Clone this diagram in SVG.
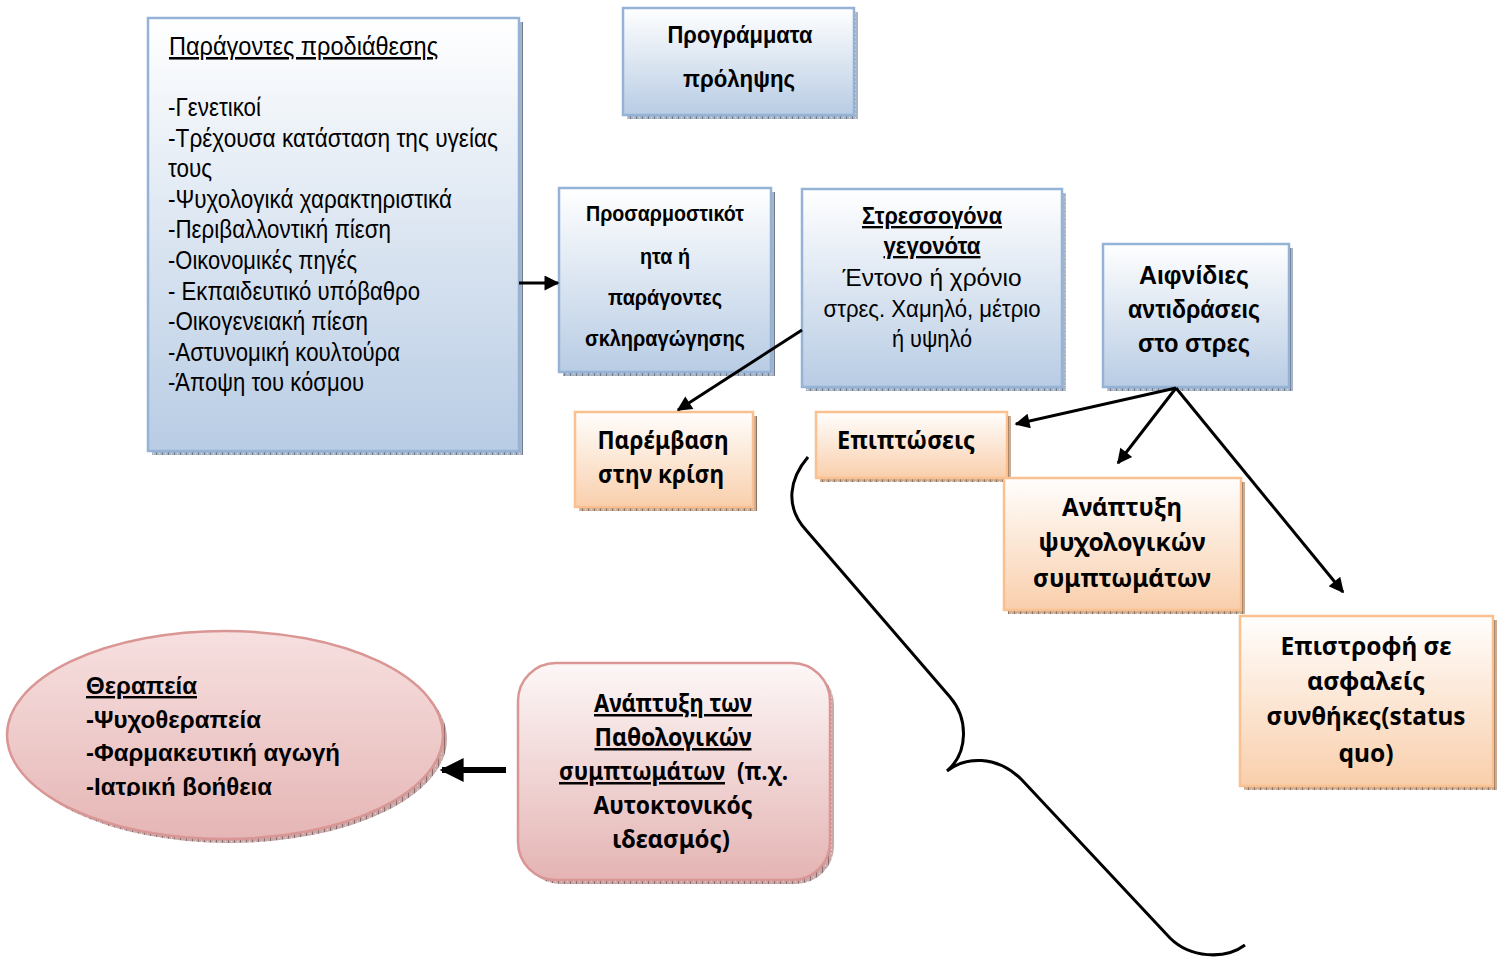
<svg xmlns="http://www.w3.org/2000/svg" width="1502" height="958" viewBox="0 0 1502 958">
  <defs>
    <linearGradient id="gBlue" x1="0" y1="0" x2="0" y2="1">
      <stop offset="0" stop-color="#ffffff"/>
      <stop offset="1" stop-color="#b8cce4"/>
    </linearGradient>
    <linearGradient id="gOrange" x1="0" y1="0" x2="0" y2="1">
      <stop offset="0" stop-color="#fffefd"/>
      <stop offset="1" stop-color="#f9cfac"/>
    </linearGradient>
    <linearGradient id="gPink" x1="0" y1="0" x2="0" y2="1">
      <stop offset="0" stop-color="#fdf7f7"/>
      <stop offset="1" stop-color="#e4b4b3"/>
    </linearGradient>
    <linearGradient id="gEllipse" x1="0" y1="0" x2="0" y2="1">
      <stop offset="0" stop-color="#f7e0e0"/>
      <stop offset="1" stop-color="#e5b6b5"/>
    </linearGradient>
    <pattern id="shBlue" width="6" height="4" patternUnits="userSpaceOnUse">
      <rect width="6" height="4" fill="#a9b4c4"/>
      <rect x="0" y="0" width="1" height="4" fill="#6f7c90"/>
      <rect x="3" y="1" width="1" height="1" fill="#dfe5ee"/>
    </pattern>
    <pattern id="shOrange" width="6" height="4" patternUnits="userSpaceOnUse">
      <rect width="6" height="4" fill="#c9ad96"/>
      <rect x="0" y="0" width="1" height="4" fill="#8f735e"/>
      <rect x="3" y="1" width="1" height="1" fill="#efe2d6"/>
    </pattern>
    <pattern id="shPink" width="6" height="4" patternUnits="userSpaceOnUse">
      <rect width="6" height="4" fill="#c7a9a9"/>
      <rect x="0" y="0" width="1" height="4" fill="#8c6c6c"/>
      <rect x="3" y="1" width="1" height="1" fill="#eddcdc"/>
    </pattern>
    <marker id="head" viewBox="0 0 10 10" refX="9" refY="5" markerWidth="6" markerHeight="5" markerUnits="strokeWidth" orient="auto">
      <path d="M0,0 L10,5 L0,10 Z" fill="#000"/>
    </marker>
    <marker id="headBig" viewBox="0 0 10 10" refX="9" refY="5" markerWidth="5.5" markerHeight="4" markerUnits="strokeWidth" orient="auto">
      <path d="M0,0 L10,5 L0,10 Z" fill="#000"/>
    </marker>
    <clipPath id="ellipseTextClip">
      <rect x="0" y="600" width="460" height="196"/>
    </clipPath>
    <style>
      .blue { fill: url(#gBlue); stroke: #95b3d7; stroke-width: 2.5; }
      .orange { fill: url(#gOrange); stroke: #fac08f; stroke-width: 2.5; }
      .pink { fill: url(#gPink); stroke: #d99694; stroke-width: 2.5; }
      .sb { fill: url(#shBlue); }
      .so { fill: url(#shOrange); }
      .sp { fill: url(#shPink); }
      .arial { font-family: "Liberation Sans", Arial, sans-serif; fill: #000; }
      .cal { font-family: "Noto Sans", "Open Sans", sans-serif; font-weight: bold; fill: #000; }
      .b { font-weight: bold; }
      .u { text-decoration: underline; }
      .mid { text-anchor: middle; }
      .conn { fill: none; stroke: #000; stroke-width: 3; }
    </style>
  </defs>

  <!-- Predisposing factors -->
  <g id="node-predisposition">
    <rect class="sb" x="152" y="22" width="371" height="433"/>
    <rect class="blue" x="148" y="18" width="371" height="433"/>
    <g class="arial" font-size="25.5">
      <text class="u" x="169" y="55" textLength="269" lengthAdjust="spacingAndGlyphs">Παράγοντες προδιάθεσης</text>
      <text x="168" y="116" textLength="93" lengthAdjust="spacingAndGlyphs">-Γενετικοί</text>
      <text x="168" y="146.6" textLength="330" lengthAdjust="spacingAndGlyphs">-Τρέχουσα κατάσταση της υγείας</text>
      <text x="168" y="177.2" textLength="44" lengthAdjust="spacingAndGlyphs">τους</text>
      <text x="168" y="207.8" textLength="284" lengthAdjust="spacingAndGlyphs">-Ψυχολογικά χαρακτηριστικά</text>
      <text x="168" y="238.4" textLength="223" lengthAdjust="spacingAndGlyphs">-Περιβαλλοντική πίεση</text>
      <text x="168" y="269" textLength="189" lengthAdjust="spacingAndGlyphs">-Οικονομικές πηγές</text>
      <text x="168" y="299.6" textLength="252" lengthAdjust="spacingAndGlyphs">- Εκπαιδευτικό υπόβαθρο</text>
      <text x="168" y="330.2" textLength="200" lengthAdjust="spacingAndGlyphs">-Οικογενειακή πίεση</text>
      <text x="168" y="360.8" textLength="232" lengthAdjust="spacingAndGlyphs">-Αστυνομική κουλτούρα</text>
      <text x="168" y="391.4" textLength="196" lengthAdjust="spacingAndGlyphs">-Άποψη του κόσμου</text>
    </g>
  </g>

  <!-- Prevention programmes -->
  <g id="node-prevention">
    <rect class="sb" x="627" y="12" width="231" height="107"/>
    <rect class="blue" x="623" y="8" width="231" height="107"/>
    <text class="arial b mid" font-size="24" x="740" y="43" textLength="145" lengthAdjust="spacingAndGlyphs">Προγράμματα</text>
    <text class="arial b mid" font-size="24" x="739" y="87" textLength="112" lengthAdjust="spacingAndGlyphs">πρόληψης</text>
  </g>

  <!-- Resilience / hardening factors -->
  <g id="node-resilience">
    <rect class="sb" x="563" y="192" width="212" height="184"/>
    <rect class="blue" x="559" y="188" width="212" height="184"/>
    <text class="arial b mid" font-size="22" x="665" y="221" textLength="158" lengthAdjust="spacingAndGlyphs">Προσαρμοστικότ</text>
    <text class="arial b mid" font-size="22" x="665" y="264" textLength="50" lengthAdjust="spacingAndGlyphs">ητα ή</text>
    <text class="arial b mid" font-size="22" x="665" y="305" textLength="114" lengthAdjust="spacingAndGlyphs">παράγοντες</text>
    <text class="arial b mid" font-size="22" x="665" y="346" textLength="160" lengthAdjust="spacingAndGlyphs">σκληραγώγησης</text>
  </g>

  <!-- Stressful events -->
  <g id="node-stressors">
    <rect class="sb" x="806" y="193" width="260" height="198"/>
    <rect class="blue" x="802" y="189" width="260" height="198"/>
    <text class="arial b u mid" font-size="23.5" x="932" y="224" textLength="140" lengthAdjust="spacingAndGlyphs">Στρεσσογόνα</text>
    <text class="arial b u mid" font-size="23.5" x="932" y="254" textLength="97" lengthAdjust="spacingAndGlyphs">γεγονότα</text>
    <text class="arial mid" font-size="23" x="932" y="286" textLength="179" lengthAdjust="spacingAndGlyphs">Έντονο ή χρόνιο</text>
    <text class="arial mid" font-size="23" x="932" y="317" textLength="217" lengthAdjust="spacingAndGlyphs">στρες. Χαμηλό, μέτριο</text>
    <text class="arial mid" font-size="23" x="932" y="347" textLength="80" lengthAdjust="spacingAndGlyphs">ή υψηλό</text>
  </g>

  <!-- Sudden reactions to stress -->
  <g id="node-reactions">
    <rect class="sb" x="1107" y="248" width="186" height="143"/>
    <rect class="blue" x="1103" y="244" width="186" height="143"/>
    <text class="arial b mid" font-size="25.5" x="1194" y="284" textLength="110" lengthAdjust="spacingAndGlyphs">Αιφνίδιες</text>
    <text class="arial b mid" font-size="25.5" x="1194" y="318" textLength="132" lengthAdjust="spacingAndGlyphs">αντιδράσεις</text>
    <text class="arial b mid" font-size="25.5" x="1194" y="352" textLength="112" lengthAdjust="spacingAndGlyphs">στο στρες</text>
  </g>

  <!-- Crisis intervention -->
  <g id="node-crisis">
    <rect class="so" x="579" y="416" width="178" height="95"/>
    <rect class="orange" x="575" y="412" width="178" height="95"/>
    <text class="cal mid" font-size="25" x="663" y="449" textLength="131" lengthAdjust="spacingAndGlyphs">Παρέμβαση</text>
    <text class="cal mid" font-size="25" x="661" y="483" textLength="126" lengthAdjust="spacingAndGlyphs">στην κρίση</text>
  </g>

  <!-- Consequences -->
  <g id="node-consequences">
    <rect class="so" x="820" y="416" width="191" height="66"/>
    <rect class="orange" x="816" y="412" width="191" height="66"/>
    <text class="cal mid" font-size="25" x="906" y="449" textLength="138" lengthAdjust="spacingAndGlyphs">Επιπτώσεις</text>
  </g>

  <!-- Development of psychological symptoms -->
  <g id="node-symptoms">
    <rect class="so" x="1008" y="482" width="237" height="132"/>
    <rect class="orange" x="1004" y="478" width="237" height="132"/>
    <text class="cal mid" font-size="25" x="1122" y="516" textLength="120" lengthAdjust="spacingAndGlyphs">Ανάπτυξη</text>
    <text class="cal mid" font-size="25" x="1122" y="551" textLength="167" lengthAdjust="spacingAndGlyphs">ψυχολογικών</text>
    <text class="cal mid" font-size="25" x="1122" y="587" textLength="178" lengthAdjust="spacingAndGlyphs">συμπτωμάτων</text>
  </g>

  <!-- Return to status quo -->
  <g id="node-statusquo">
    <rect class="so" x="1244" y="620" width="253" height="170"/>
    <rect class="orange" x="1240" y="616" width="253" height="170"/>
    <text class="cal mid" font-size="25" x="1366" y="655" textLength="171" lengthAdjust="spacingAndGlyphs">Επιστροφή σε</text>
    <text class="cal mid" font-size="25" x="1366" y="690" textLength="118" lengthAdjust="spacingAndGlyphs">ασφαλείς</text>
    <text class="cal mid" font-size="25" x="1366" y="725" textLength="199" lengthAdjust="spacingAndGlyphs">συνθήκες(status</text>
    <text class="cal mid" font-size="25" x="1366" y="762" textLength="55" lengthAdjust="spacingAndGlyphs">quo)</text>
  </g>

  <!-- Pathological symptoms -->
  <g id="node-pathological">
    <rect class="sp" x="522" y="667" width="312" height="217" rx="38"/>
    <rect class="pink" x="518" y="663" width="312" height="217" rx="38"/>
    <text class="cal u mid" font-size="25" x="673" y="712" textLength="158" lengthAdjust="spacingAndGlyphs">Ανάπτυξη των</text>
    <text class="cal u mid" font-size="25" x="673" y="746" textLength="157" lengthAdjust="spacingAndGlyphs">Παθολογικών</text>
    <text class="cal u" font-size="25" x="559" y="780" textLength="166" lengthAdjust="spacingAndGlyphs">συμπτωμάτων</text>
    <text class="cal" font-size="25" x="737" y="780" textLength="51" lengthAdjust="spacingAndGlyphs">(π.χ.</text>
    <text class="cal mid" font-size="25" x="673" y="814" textLength="159" lengthAdjust="spacingAndGlyphs">Αυτοκτονικός</text>
    <text class="cal mid" font-size="25" x="671" y="848" textLength="118" lengthAdjust="spacingAndGlyphs">ιδεασμός)</text>
  </g>

  <!-- Therapy -->
  <g id="node-therapy">
    <ellipse class="sp" cx="229" cy="739" rx="218" ry="104"/>
    <ellipse cx="225" cy="735" rx="218" ry="104" fill="url(#gEllipse)" stroke="#d99694" stroke-width="2.5"/>
    <g clip-path="url(#ellipseTextClip)">
      <text class="arial b u" font-size="24" x="86" y="694" textLength="111" lengthAdjust="spacingAndGlyphs">Θεραπεία</text>
      <text class="arial b" font-size="24" x="86" y="728" textLength="175" lengthAdjust="spacingAndGlyphs">-Ψυχοθεραπεία</text>
      <text class="arial b" font-size="24" x="86" y="761" textLength="254" lengthAdjust="spacingAndGlyphs">-Φαρμακευτική αγωγή</text>
      <text class="arial b" font-size="24" x="86" y="795" textLength="186" lengthAdjust="spacingAndGlyphs">-Ιατρική βοήθεια</text>
    </g>
  </g>

  <!-- Connectors -->
  <g id="connectors">
    <line class="conn" x1="519" y1="283" x2="558" y2="283" marker-end="url(#head)"/>
    <line class="conn" x1="802" y1="330" x2="678" y2="410" marker-end="url(#head)"/>
    <line class="conn" x1="1176" y1="388" x2="1016" y2="424" marker-end="url(#head)"/>
    <line class="conn" x1="1176" y1="388" x2="1118" y2="463" marker-end="url(#head)"/>
    <line class="conn" x1="1176" y1="388" x2="1343" y2="592" marker-end="url(#head)"/>
    <line x1="506" y1="770" x2="442" y2="770" stroke="#000" stroke-width="6" marker-end="url(#headBig)"/>
    <path class="conn" stroke-width="3.5" d="M808,457 C790,478 784,506 806,530 L950,697 C968,718 969,752 947,771 C965,757 996,754 1022,780 L1170,938 C1190,958 1225,960 1245,945"/>
  </g>
</svg>
